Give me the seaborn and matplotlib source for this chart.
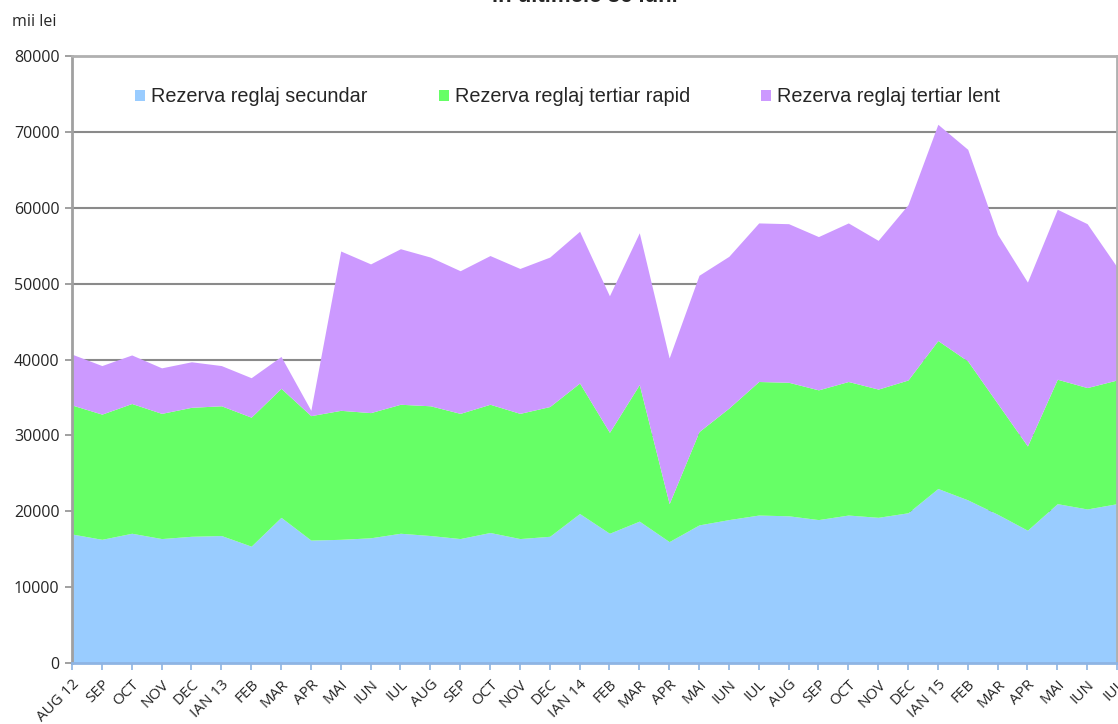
import matplotlib
matplotlib.use("Agg")
import matplotlib.pyplot as plt
import seaborn as sns
import numpy as np

# Monthly categories (Aug 2012 - Jul 2015)
months = ["AUG 12", "SEP", "OCT", "NOV", "DEC", "IAN 13", "FEB", "MAR", "APR",
          "MAI", "IUN", "IUL", "AUG", "SEP", "OCT", "NOV", "DEC", "IAN 14",
          "FEB", "MAR", "APR", "MAI", "IUN", "IUL", "AUG", "SEP", "OCT", "NOV",
          "DEC", "IAN 15", "FEB", "MAR", "APR", "MAI", "IUN", "IUL"]

# Values in thousands of lei
secundar = [17000, 16300, 17100, 16400, 16700, 16800, 15400, 19200, 16200,
            16300, 16500, 17100, 16800, 16400, 17200, 16400, 16700, 19700,
            17100, 18700, 16000, 18200, 18900, 19500, 19400, 18900, 19500,
            19200, 19800, 23000, 21500, 19600, 17500, 21000, 20300, 21000]
tertiar_rapid = [17000, 16500, 17100, 16500, 17000, 17100, 17000, 17000, 16400,
                 17000, 16500, 17000, 17100, 16500, 16900, 16500, 17100, 17200,
                 13300, 18000, 5000, 12300, 14700, 17600, 17600, 17100, 17600,
                 16900, 17500, 19500, 18300, 14600, 11100, 16400, 16000, 16300]
tertiar_lent = [6700, 6400, 6400, 6000, 6000, 5300, 5200, 4200, 700,
                21000, 19600, 20500, 19600, 18800, 19600, 19100, 19700, 20000,
                18000, 20000, 19200, 20600, 20000, 20900, 20900, 20200, 20900,
                19600, 23100, 28500, 27900, 22300, 21600, 22400, 21600, 14900]

series_names = ["Rezerva reglaj secundar", "Rezerva reglaj tertiar rapid",
                "Rezerva reglaj tertiar lent"]
colors = ["#99CCFF", "#66FF66", "#CC99FF"]
y_ticks = [0, 10000, 20000, 30000, 40000, 50000, 60000, 70000, 80000]

sns.set_style("white")
plt.rcParams["font.family"] = ["Open Sans", "DejaVu Sans"]

fig = plt.figure(figsize=(11.18, 7.24), dpi=100)
ax = fig.add_axes([72 / 1118, 1 - 663 / 724, 1045 / 1118, (663 - 56) / 724])

x = np.arange(len(months))
ax.stackplot(x, secundar, tertiar_rapid, tertiar_lent, colors=colors,
             labels=series_names, linewidth=0, zorder=2)

ax.set_xlim(0, len(months) - 1)
ax.set_ylim(0, 80000)
ax.set_yticks(y_ticks)
ax.set_yticklabels([str(v) for v in y_ticks], fontsize=11.5)
ax.set_xticks(x)
ax.set_xticklabels(months, rotation=45, ha="right", va="top",
                   rotation_mode="anchor", fontsize=11)

# horizontal gridlines behind the areas
for v in y_ticks[1:-1]:
    ax.axhline(v, color="#8A8A8A", linewidth=1.5, zorder=1)

for side in ["top", "right"]:
    ax.spines[side].set_visible(True)
    ax.spines[side].set_color("#B0B0B0")
    ax.spines[side].set_linestyle((0, (1, 1)))
    ax.spines[side].set_linewidth(2)
ax.spines["left"].set_color("#A0A0A0")
ax.spines["left"].set_linestyle((0, (1, 1)))
ax.spines["left"].set_linewidth(2)
ax.spines["bottom"].set_color("#8EB4E3")
ax.spines["bottom"].set_linestyle((0, (1, 1)))
ax.spines["bottom"].set_linewidth(2)
for s in ax.spines.values():
    s.set_zorder(3)

ax.tick_params(axis="y", direction="out", length=5, width=1.2,
               color="#909090", left=True, pad=4)
ax.tick_params(axis="x", direction="out", length=5, width=1.2,
               color="#8EB4E3", bottom=True, pad=5)

leg = ax.legend(loc="center left", bbox_to_anchor=((135 - 72) / 1045, 1 - (97 - 56) / 607),
                ncol=3, frameon=False, handlelength=0.5, handleheight=0.5,
                handletextpad=0.3, columnspacing=3.6, borderpad=0,
                borderaxespad=0,
                prop={"family": ["Liberation Sans", "DejaVu Sans"], "size": 14.3})

fig.text(12 / 1118, 1 - 22 / 724, "mii lei", fontsize=11.5, va="center", ha="left")
fig.text(585 / 1118, 1 - 2 / 724, "in ultimele 36 luni", fontsize=16,
         fontweight="bold", ha="center", va="baseline",
         family=["Liberation Sans", "DejaVu Sans"])

fig.savefig("out.png", dpi=100, facecolor="white")
